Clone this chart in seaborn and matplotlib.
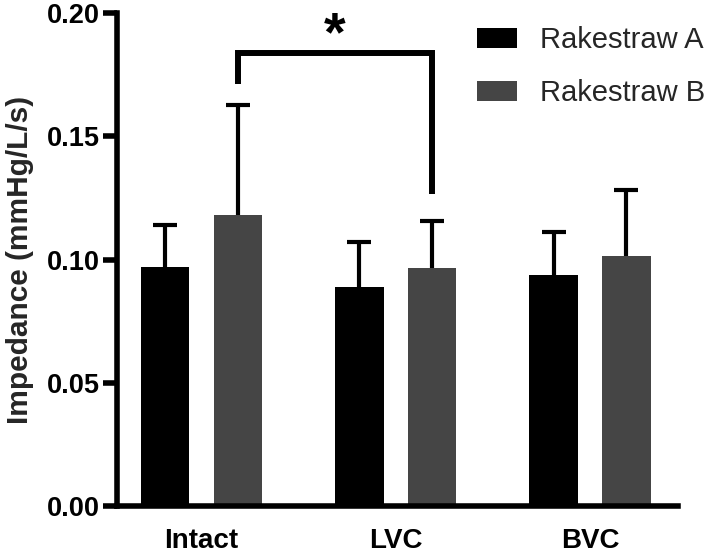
import matplotlib
matplotlib.use("Agg")
import matplotlib.pyplot as plt
from matplotlib.patches import Patch
import seaborn as sns
import pandas as pd
import numpy as np

# ---- data ----
conditions = ["Intact", "LVC", "BVC"]
groups = ["Rakestraw A", "Rakestraw B"]
mean_a = [0.0968, 0.0887, 0.0939]
mean_b = [0.1182, 0.0964, 0.1016]
sd_a = [0.0170, 0.0182, 0.0174]
sd_b = [0.0446, 0.0194, 0.0267]
yticks = [0.00, 0.05, 0.10, 0.15, 0.20]
ylabel = "Impedance (mmHg/L/s)"
sig_text = "*"

colors = ["#000000", "#454545"]

sns.set_style("ticks")
plt.rcParams["font.family"] = ["Liberation Sans", "DejaVu Sans"]

df = pd.DataFrame({
    "condition": conditions * 2,
    "group": [groups[0]] * 3 + [groups[1]] * 3,
    "impedance": mean_a + mean_b,
})

fig = plt.figure(figsize=(7.09, 5.53), dpi=100)
ax = fig.add_axes([117 / 709, 1 - 506 / 553, (678 - 117) / 709, (506 - 13) / 553])

sns.barplot(data=df, x="condition", y="impedance", hue="group", order=conditions,
            hue_order=groups, palette=colors, width=0.75, gap=1 / 3, errorbar=None,
            saturation=1, linewidth=0, legend=False, ax=ax)

# upper error bars only
centers = {}
for gi, (cont, means, sds) in enumerate(zip(ax.containers, [mean_a, mean_b], [sd_a, sd_b])):
    xs = [b.get_x() + b.get_width() / 2 for b in cont]
    centers[gi] = xs
    eb = ax.errorbar(xs, means, yerr=[np.zeros(len(sds)), sds], fmt="none", ecolor="black",
                     elinewidth=3.0, capsize=8.6, capthick=3.0, zorder=1)
    eb[1][0].set_visible(False)  # hide lower caps

# significance bracket between Intact B and LVC B
x1, x2 = centers[1][0], centers[1][1]
y_top = 0.1838
ax.plot([x1, x1, x2, x2], [0.1713, y_top, y_top, 0.1267], color="black", lw=4.3,
        solid_joinstyle="miter", solid_capstyle="butt", clip_on=False, zorder=3)
ax.text((x1 + x2) / 2, 0.1850, sig_text, ha="center", va="baseline", fontsize=40,
        fontweight="bold", color="black")

ax.set_xlim(-0.435, 2.453)
ax.set_ylim(0, 0.20)
ax.set_yticks(yticks)
ax.set_yticklabels([f"{v:.2f}" for v in yticks])
ax.set_xlabel("")
ax.set_ylabel(ylabel, fontsize=21.5, fontweight="bold")
ax.yaxis.set_label_coords(-0.148, 0.5)

for lab in ax.get_xticklabels() + ax.get_yticklabels():
    lab.set_fontweight("bold")
ax.tick_params(axis="y", length=10, width=4, pad=2, labelsize=19.5, colors="black")
ax.tick_params(axis="x", length=0, pad=16, labelsize=20, colors="black")

sns.despine(ax=ax)
for s in ["left", "bottom"]:
    ax.spines[s].set_linewidth(4)
    ax.spines[s].set_color("black")

handles = [Patch(facecolor=c, edgecolor="none") for c in colors]
fig.legend(handles, groups, loc="upper left", bbox_to_anchor=(477 / 709, 1 - 26 / 553),
           frameon=False, fontsize=21, handlelength=1.37, handleheight=0.685,
           handletextpad=0.79, labelspacing=0.87, borderpad=0, borderaxespad=0)

fig.savefig("out.png", dpi=100)
